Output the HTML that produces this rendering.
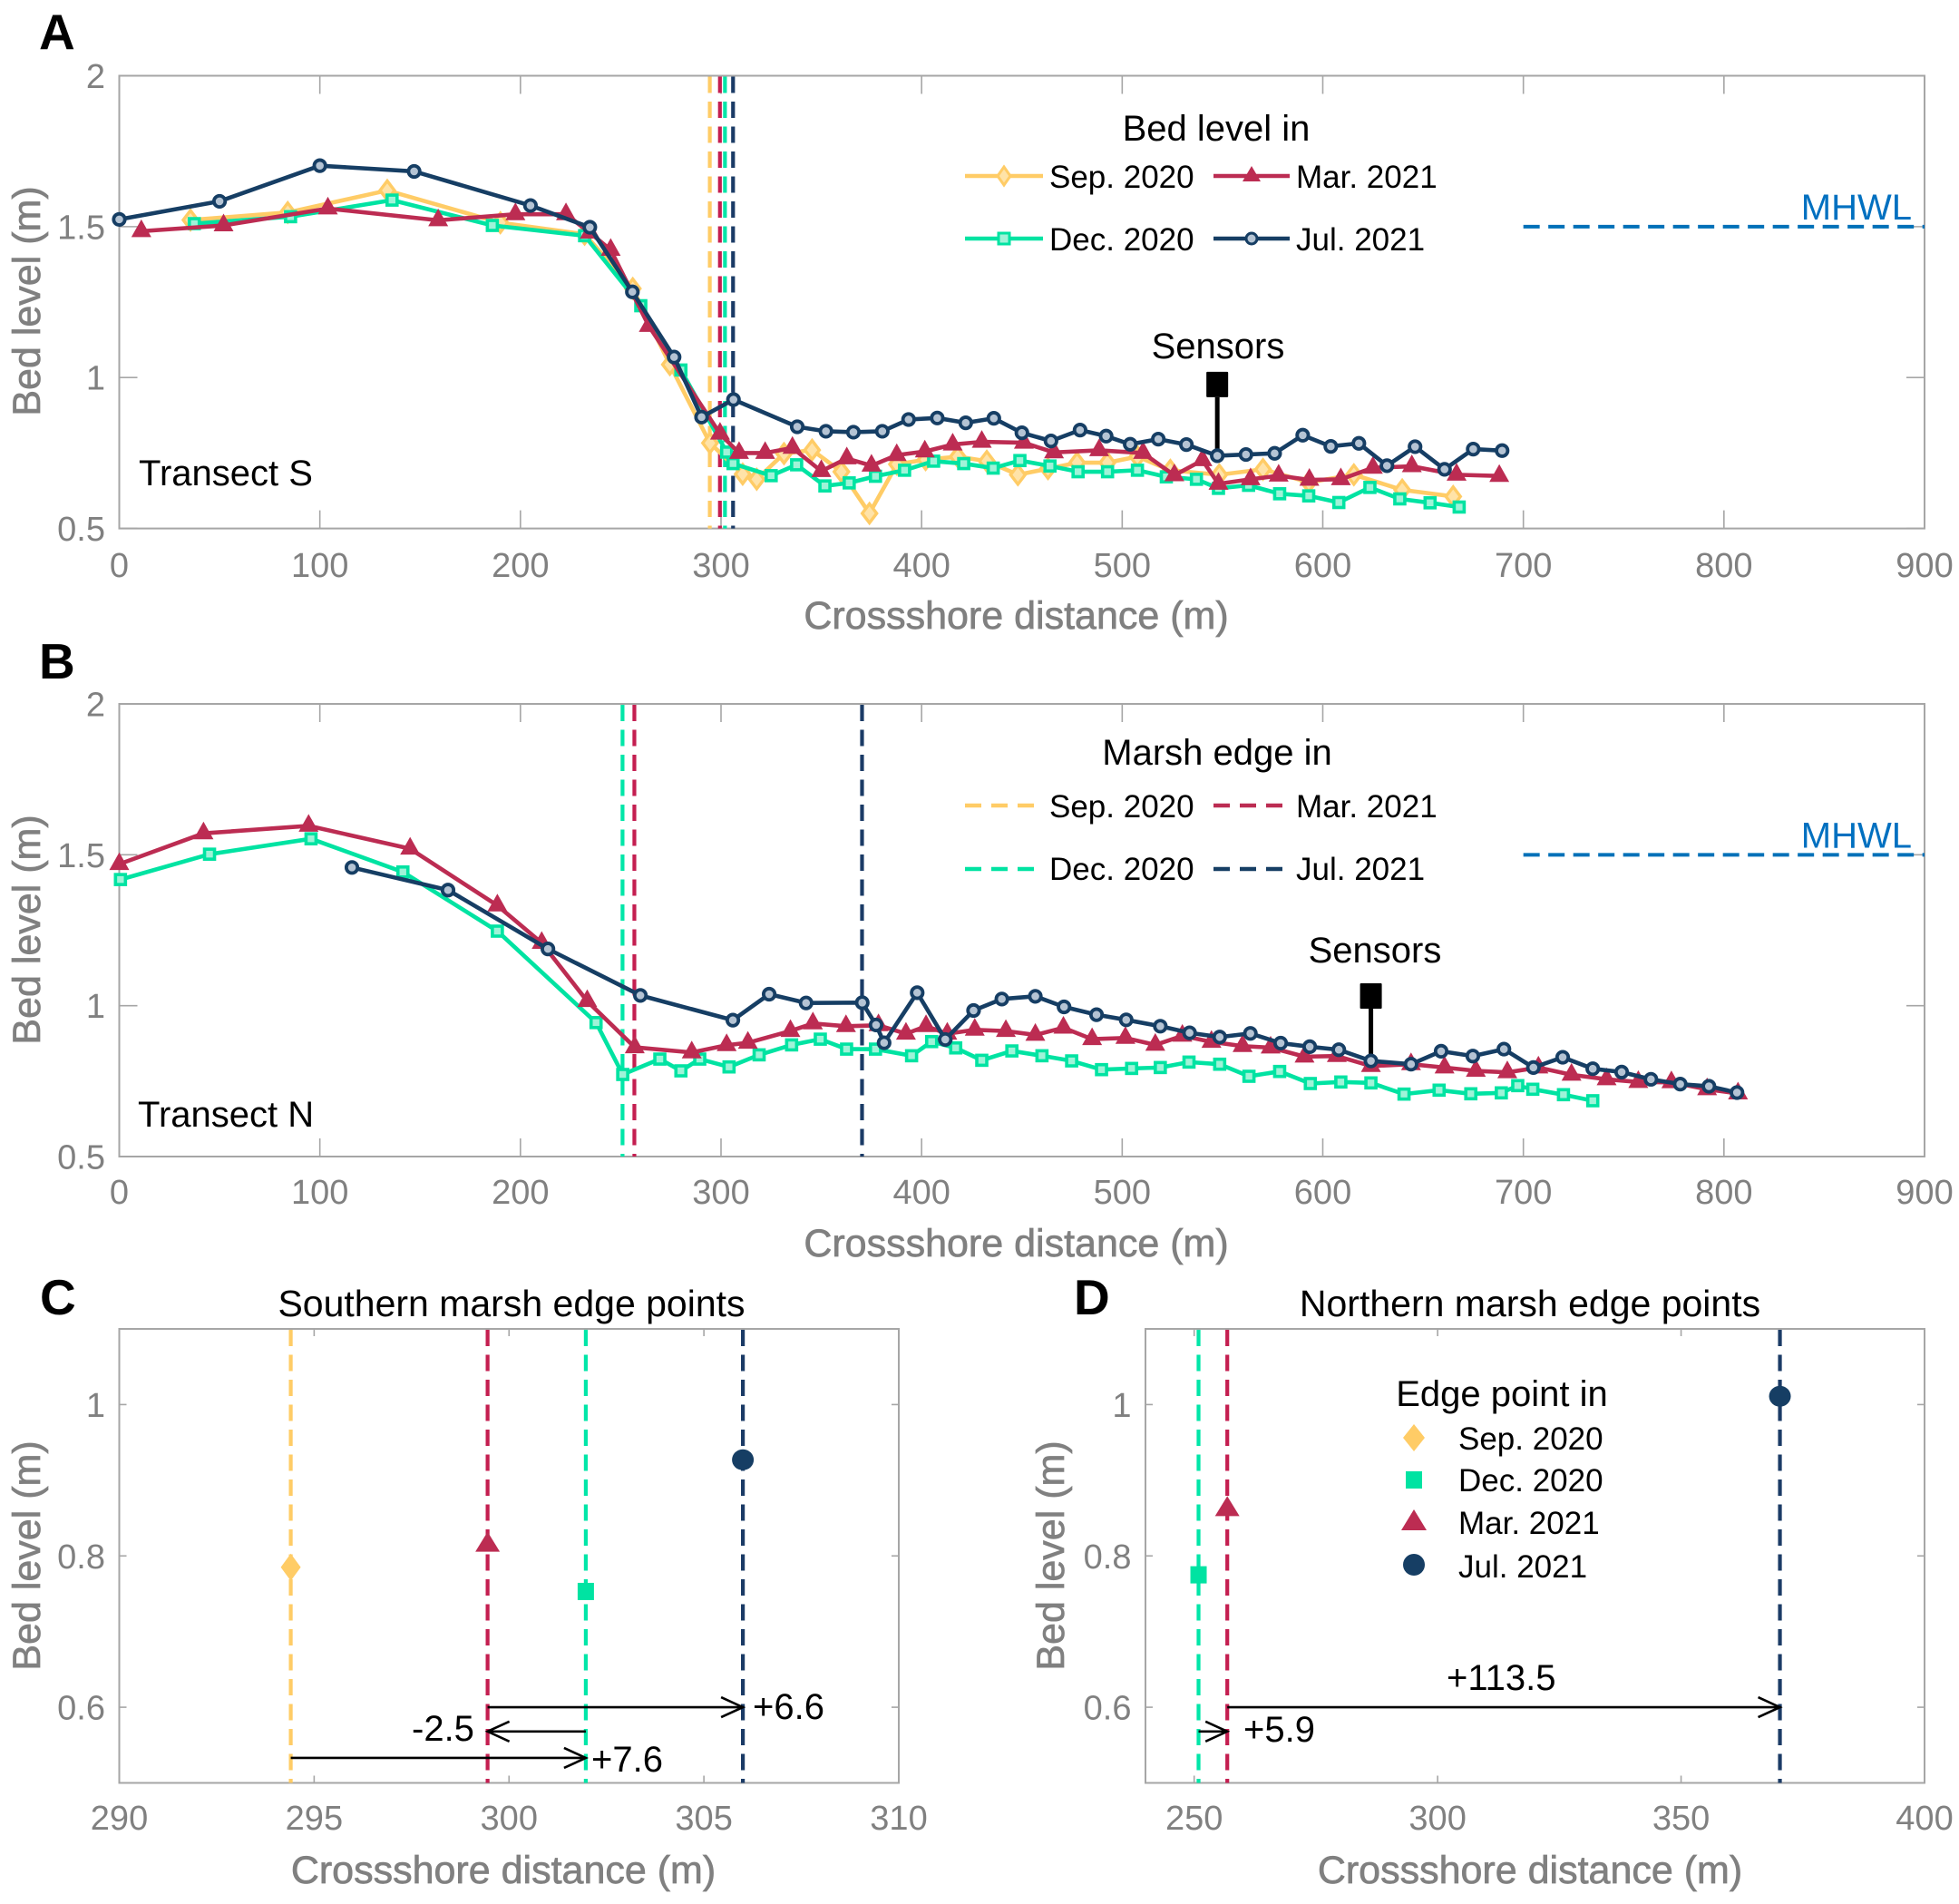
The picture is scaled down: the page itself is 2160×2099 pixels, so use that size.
<!DOCTYPE html>
<html lang="en">
<head>
<meta charset="utf-8">
<title>Bed level and marsh edge points</title>
<style>
html,body{margin:0;padding:0;background:#fff;width:2160px;height:2099px;overflow:hidden}
svg{display:block}
text{font-family:"Liberation Sans",sans-serif;fill:#000}
.lbl{font-size:40px}
.leg{font-size:35px}
.pan{font-size:55px;font-weight:bold}
.ax{font-size:43px;fill:#808080;stroke:#808080;stroke-width:.7px}
.tk{font-size:38px;fill:#808080}
</style>
</head>
<body>
<svg id="fig" xmlns="http://www.w3.org/2000/svg" width="2160" height="2099" viewBox="0 0 2160 2099">
  <rect width="2160" height="2099" fill="#fff"/>
  <g id="plots"></g>

  <text class="pan" x="43" y="54">A</text>
  <text class="pan" x="43" y="748">B</text>
  <text class="pan" x="44" y="1449">C</text>
  <text class="pan" x="1184" y="1449">D</text>

  <text class="lbl" x="153" y="535">Transect S</text>
  <text class="lbl" x="152" y="1242">Transect N</text>
  <text class="lbl" x="564" y="1451" text-anchor="middle" style="font-size:41px">Southern marsh edge points</text>
  <text class="lbl" x="1687" y="1451" text-anchor="middle" style="font-size:41px">Northern marsh edge points</text>

  <g>
    <text class="lbl" x="1341" y="155" text-anchor="middle">Bed level in</text>
    <g>
      <line x1="1064" x2="1150" y1="194" y2="194" stroke="#FFCC66" stroke-width="4.5"/>
      <polygon points="1107,184 1114,194 1107,204 1100,194" fill="#FFE3A8" stroke="#FFCC66" stroke-width="3"/>
      <text class="leg" x="1157" y="207">Sep. 2020</text>
    </g>
    <g>
      <line x1="1338" x2="1422" y1="194" y2="194" stroke="#BC2C52" stroke-width="4.5"/>
      <polygon points="1380,183 1390,200 1370,200" fill="#BC2C52"/>
      <text class="leg" x="1429" y="207">Mar. 2021</text>
    </g>
    <g>
      <line x1="1064" x2="1150" y1="263" y2="263" stroke="#00E3A2" stroke-width="4.5"/>
      <rect x="1101" y="257" width="12" height="12" fill="#9FF3D8" stroke="#00E3A2" stroke-width="3"/>
      <text class="leg" x="1157" y="276">Dec. 2020</text>
    </g>
    <g>
      <line x1="1338" x2="1422" y1="263" y2="263" stroke="#163E64" stroke-width="4.5"/>
      <circle cx="1380" cy="263" r="6" fill="#B5C4D4" stroke="#163E64" stroke-width="3"/>
      <text class="leg" x="1429" y="276">Jul. 2021</text>
    </g>
  </g>

  <g>
    <text class="lbl" x="1342" y="843" text-anchor="middle">Marsh edge in</text>
    <g>
      <line x1="1064" x2="1150" y1="888" y2="888" stroke="#FFCC66" stroke-width="4.5" stroke-dasharray="18 11"/>
      <text class="leg" x="1157" y="901">Sep. 2020</text>
    </g>
    <g>
      <line x1="1338" x2="1422" y1="888" y2="888" stroke="#BC2C52" stroke-width="4.5" stroke-dasharray="18 11"/>
      <text class="leg" x="1429" y="901">Mar. 2021</text>
    </g>
    <g>
      <line x1="1064" x2="1150" y1="958" y2="958" stroke="#00E3A2" stroke-width="4.5" stroke-dasharray="18 11"/>
      <text class="leg" x="1157" y="970">Dec. 2020</text>
    </g>
    <g>
      <line x1="1338" x2="1422" y1="958" y2="958" stroke="#163E64" stroke-width="4.5" stroke-dasharray="18 11"/>
      <text class="leg" x="1429" y="970">Jul. 2021</text>
    </g>
  </g>

  <g>
    <text class="lbl" x="1656" y="1550" text-anchor="middle">Edge point in</text>
    <g>
      <polygon points="1559,1570 1571,1585 1559,1600 1547,1585" fill="#FFCC66"/>
      <text class="leg" x="1608" y="1598">Sep. 2020</text>
    </g>
    <g>
      <rect x="1550" y="1622" width="18" height="19" fill="#00E3A2"/>
      <text class="leg" x="1608" y="1644">Dec. 2020</text>
    </g>
    <g>
      <polygon points="1559,1664 1573,1687 1545,1687" fill="#BC2C52"/>
      <text class="leg" x="1608" y="1691">Mar. 2021</text>
    </g>
    <g>
      <ellipse cx="1559" cy="1725" rx="12" ry="12" fill="#163E64"/>
      <text class="leg" x="1608" y="1739">Jul. 2021</text>
    </g>
  </g>

  <text class="lbl" x="830" y="1895">+6.6</text>
  <text class="lbl" x="454" y="1919">-2.5</text>
  <text class="lbl" x="652" y="1953">+7.6</text>
  <text class="lbl" x="1595" y="1863">+113.5</text>
  <text class="lbl" x="1371" y="1920">+5.9</text>
</svg>
<script>
// ---- Transect S (panel A) ----
const sepSX=[35.5,84,133.6,190,232,256,274.5,294.5,310.8,317.8,331.4,345.4,360,374,387.7,402,418,432.5,448,463,477.5,492.6,507.6,524,548.4,570.2,593,615.5,639.6,665];
const sepSY=[1.522,1.547,1.62,1.513,1.475,1.295,1.043,.783,.68,.663,.748,.76,.688,.55,.713,.728,.738,.723,.678,.698,.718,.718,.738,.693,.678,.696,.653,.678,.628,.606];
const decSX=[37.4,85.4,136,186,232,260,280,302.8,306,325,337.7,351.8,363.9,377,391.5,406,421,435.7,449,464,478,492.7,507.6,522,537,548,563,578.5,593,608,623.5,638.4,653.5,668];
const decSY=[1.51,1.533,1.588,1.504,1.47,1.238,1.025,.753,.715,.675,.711,.641,.651,.673,.693,.723,.715,.70,.725,.707,.688,.688,.693,.671,.663,.633,.643,.615,.608,.586,.636,.598,.585,.571];
const marSX=[11,52,104,159,197.5,222.7,234.6,245,264,299.5,309,322,335.6,350,362.7,375,387.6,401.6,415.5,430,451,466,488.5,510.4,526,540,548,564,578,593.3,609,625,644.4,666.7,688];
const marSY=[1.485,1.504,1.56,1.521,1.541,1.541,1.48,1.423,1.171,.814,.75,.75,.767,.69,.732,.708,.743,.755,.778,.787,.784,.752,.759,.75,.676,.726,.648,.663,.675,.661,.663,.701,.706,.678,.674];
const julSX=[0,50,100,147,205,234.6,255.8,276.6,290.3,306.2,338,352.3,366,380.4,393.5,407.8,422,436,450,464.5,479,492,504,518,532,547.4,561.7,576,590,604,618,632,646,660.7,675,689.4];
const julSY=[1.524,1.584,1.702,1.683,1.57,1.498,1.284,1.068,.869,.927,.837,.822,.819,.822,.861,.866,.85,.865,.817,.79,.826,.806,.779,.796,.778,.741,.745,.749,.809,.772,.782,.708,.771,.696,.763,.758];

// ---- Transect N (panel B) ----
const decNX=[.6,45,95.6,141.4,188.5,237.7,251,269.5,280,289.4,304,319,335.2,349.5,362.6,377,395,405,417,430,445,460,474.8,489.7,504.7,519,533.3,548.6,563.2,578.5,593.8,609,624,640.5,658,673.8,689,697.2,704.7,720,734.6];
const decNY=[1.418,1.502,1.553,1.443,1.247,.944,.772,.823,.784,.823,.797,.837,.87,.889,.856,.856,.834,.881,.86,.819,.85,.834,.817,.788,.792,.795,.813,.806,.766,.782,.742,.747,.744,.707,.72,.708,.711,.735,.723,.705,.685];
const marNX=[0,42,94.4,145,188.5,210.6,233.3,257,285.4,302.8,313.4,334.6,345.8,362.3,378.5,392.2,402.2,412.8,426.5,442,456.7,470.7,485,501.6,516.5,530,544.5,560,574,590.9,607,624,644,660.7,676.3,692,707.5,724,741.5,757.3,773.8,791.6,807];
const marNY=[1.469,1.571,1.596,1.52,1.332,1.208,1.015,.862,.845,.869,.877,.916,.941,.932,.935,.907,.932,.907,.92,.916,.903,.927,.889,.893,.87,.90,.88,.866,.861,.831,.833,.80,.806,.795,.784,.779,.795,.771,.756,.747,.746,.723,.709];
const julNX=[116,163.9,213.7,259.8,305.9,324,342.4,370.4,377.3,381.3,397.8,411.8,425.9,440,456.7,471,487.2,502,519,533.6,548.6,563.9,579,593.5,608,624,644,659,674.8,690.3,705,719.6,734.6,749,763.6,778.2,792.5,806.5];
const julNY=[1.458,1.383,1.188,1.034,.952,1.038,1.009,1.01,.936,.877,1.043,.888,.984,1.022,1.031,.996,.97,.953,.932,.91,.896,.908,.876,.864,.854,.817,.806,.849,.833,.856,.795,.829,.791,.78,.756,.74,.733,.712];

// ---- Marsh edge points (panels C and D; edge lines in A and B) ----
const edgeSSurveys=['sep','mar','dec','jul'];
const edgeSDist=[294.4,299.45,301.97,306];
const edgeSLevel=[.785,.817,.753,.927];
const edgeNSurveys=['dec','mar','jul'];
const edgeNDist=[250.9,256.8,370.3];
const edgeNLevel=[.775,.864,1.011];

// ---- Shift arrows: start, end, level ----
const arrowsCFrom=[299.45,301.97,294.4];
const arrowsCTo=[306,299.45,301.97];
const arrowsCLevel=[.6,.568,.533];
const arrowsDFrom=[256.8,250.9];
const arrowsDTo=[370.3,256.8];
const arrowsDLevel=[.6,.568];

// ---- Reference values ----
const mhwlLevel=1.5;
const mhwlStart=700;
const mhwlEnd=900;
const sensorDist=[547.4,624];
const sensorBase=[.741,.817];
const sensorTop=[.935,.99];

// ---- Ticks ----
const xTicksLong=[0,100,200,300,400,500,600,700,800,900];
const yTicksLong=[.5,1,1.5,2];
const yTickLongLabels=['0.5','1','1.5','2'];
const xTicksC=[290,295,300,305,310];
const xTicksD=[250,300,350,400];
const yTicksEdge=[.6,.8,1];
const yTickEdgeLabels=['0.6','0.8','1'];

const NS='http://www.w3.org/2000/svg';
const COLORS={sep:'#FFCC66',dec:'#00E3A2',mar:'#BC2C52',jul:'#163E64'};
const FILLS={sep:'#FFE3A8',dec:'#9FF3D8',mar:'#BC2C52',jul:'#B5C4D4'};
const VCOLORS={sep:'#FFCC66',dec:'#00E6A8',mar:'#C41E50',jul:'#1B3B66'};
const root=document.getElementById('plots');

function mk(tag,attrs,parent,txt){
  const e=document.createElementNS(NS,tag);
  for(const k in attrs)e.setAttribute(k,attrs[k]);
  if(txt!==undefined)e.textContent=txt;
  (parent||root).appendChild(e);
  return e;
}
function scale(d0,d1,p0,p1){return v=>p0+(v-d0)*(p1-p0)/(d1-d0);}

function drawAxes(o){
  const g=mk('g',{},root);
  
  
  const frame=mk('rect',{x:o.l,y:o.t,width:o.r-o.l,height:o.b-o.t,fill:'none',stroke:'#A6A6A6','stroke-width':2},g);
  
  
  o.xTicks.forEach(v=>{
    const px=o.x(v);
    const t1=mk('line',{x1:px,x2:px,y1:o.b,y2:o.b-o.tick,stroke:'#A6A6A6','stroke-width':1.6},g);
    
    
    const t2=mk('line',{x1:px,x2:px,y1:o.t,y2:o.t+o.tick,stroke:'#A6A6A6','stroke-width':1.6},g);
    
    
    const lb=mk('text',{x:px,y:o.xLabelY,'text-anchor':'middle','class':'tk'},g,String(v));
    
    
  });
  o.yTicks.forEach((v,i)=>{
    const py=o.y(v);
    const t1=mk('line',{x1:o.l,x2:o.l+o.tick,y1:py,y2:py,stroke:'#A6A6A6','stroke-width':1.6},g);
    
    
    const t2=mk('line',{x1:o.r,x2:o.r-o.tick,y1:py,y2:py,stroke:'#A6A6A6','stroke-width':1.6},g);
    
    
    const lb=mk('text',{x:o.l-15.5,y:py+13.5,'text-anchor':'end','class':'tk'},g,o.yLabels[i]);
    
    
  });
  const xt=mk('text',{x:o.xTitleX,y:o.xTitleY,'text-anchor':'middle','class':'ax'},g,'Crossshore distance (m)');
  
  
  const yt=mk('text',{x:0,y:0,'text-anchor':'middle','class':'ax',transform:'translate('+o.yTitleX+' '+o.yTitleY+') rotate(-90)'},g,'Bed level (m)');
  
  
}

function edgeLine(o,survey,dist){
  const px=o.x(dist);
  const e=mk('line',{x1:px,x2:px,y1:o.t+1,y2:o.b,stroke:VCOLORS[survey],'stroke-width':4.2,'stroke-dasharray':'18 9.5'},root);
  
  
}

function smallMarker(g,kind,x,y){
  let m;
  if(kind==='sep'){
    m=mk('polygon',{points:[x,y-10.5,x+8,y,x,y+10.5,x-8,y].join(' '),fill:FILLS.sep,stroke:COLORS.sep,'stroke-width':3.4},g);
  }else if(kind==='dec'){
    m=mk('rect',{x:x-5.5,y:y-5.5,width:11,height:11,fill:FILLS.dec,stroke:COLORS.dec,'stroke-width':3.6},g);
  }else if(kind==='mar'){
    m=mk('polygon',{points:[x,y-13,x+11,y+6.5,x-11,y+6.5].join(' '),fill:COLORS.mar},g);
  }else{
    m=mk('circle',{cx:x,cy:y,r:6.2,fill:FILLS.jul,stroke:COLORS.jul,'stroke-width':3.8},g);
  }
  
  
}

function series(o,kind,xs,ys){
  const g=mk('g',{},root);
  
  
  const pts=xs.map((v,i)=>o.x(v)+','+o.y(ys[i])).join(' ');
  const l=mk('polyline',{points:pts,fill:'none',stroke:COLORS[kind],'stroke-width':4.6,'stroke-linejoin':'round'},g);
  
  
  xs.forEach((v,i)=>smallMarker(g,kind,o.x(v),o.y(ys[i])));
}

function mhwl(o){
  const py=o.y(mhwlLevel);
  const l=mk('line',{x1:o.x(mhwlStart),x2:o.x(mhwlEnd),y1:py,y2:py,stroke:'#0070B8','stroke-width':4,'stroke-dasharray':'18 9.5'},root);
  
  
  const t=mk('text',{x:2108,y:py-8,'text-anchor':'end','class':'lbl',style:'fill:#0070C0'},root,'MHWL');
  
  
}

function sensor(o,i,labelX,labelY){
  const px=o.x(sensorDist[i]);
  const top=o.y(sensorTop[i]);
  const st=mk('line',{x1:px,x2:px,y1:top,y2:o.y(sensorBase[i]),stroke:'#000','stroke-width':5},root);
  
  
  const sq=mk('rect',{x:px-12,y:top-28,width:24,height:28,rx:1,fill:'#000'},root);
  
  
  const t=mk('text',{x:labelX,y:labelY,'text-anchor':'middle','class':'lbl'},root,'Sensors');
  
  
}

function bigMarker(o,kind,dist,level){
  const x=o.x(dist),y=o.y(level);
  let m;
  if(kind==='sep'){
    m=mk('polygon',{points:[x,y-15,x+11,y,x,y+15,x-11,y].join(' '),fill:COLORS.sep},root);
  }else if(kind==='dec'){
    m=mk('rect',{x:x-9,y:y-9.5,width:18,height:19,fill:COLORS.dec},root);
  }else if(kind==='mar'){
    m=mk('polygon',{points:[x,y-12.5,x+13.5,y+9.5,x-13.5,y+9.5].join(' '),fill:COLORS.mar},root);
  }else{
    m=mk('ellipse',{cx:x,cy:y,rx:12,ry:11.5,fill:COLORS.jul},root);
  }
  
  
}

function arrow(o,from,to,level){
  const x0=o.x(from),x1=o.x(to),y=o.y(level);
  const dir=x1>x0?1:-1;
  const g=mk('g',{fill:'none',stroke:'#000','stroke-width':2.6},root);
  
  
  mk('line',{x1:x0,x2:x1,y1:y,y2:y},g);
  mk('polyline',{points:[x1-dir*24,y-11,x1,y,x1-dir*24,y+11].join(' ')},g);
}

const pA={id:'panel-a',l:131.5,r:2122,t:83.5,b:582.6,tick:20,xTicks:xTicksLong,yTicks:yTicksLong,yLabels:yTickLongLabels,xLabelY:636,xTitleX:1120.5,xTitleY:693,yTitleX:44,yTitleY:332};
pA.x=scale(0,900,pA.l,pA.r);
pA.y=scale(.5,2,pA.b,pA.t);
const pB={id:'panel-b',l:131.5,r:2122,t:776,b:1275,tick:20,xTicks:xTicksLong,yTicks:yTicksLong,yLabels:yTickLongLabels,xLabelY:1327,xTitleX:1120.5,xTitleY:1385,yTitleX:44,yTitleY:1025};
pB.x=scale(0,900,pB.l,pB.r);
pB.y=scale(.5,2,pB.b,pB.t);
const pC={id:'panel-c',l:131.5,r:991,t:1465,b:1965.5,tick:8,xTicks:xTicksC,yTicks:yTicksEdge,yLabels:yTickEdgeLabels,xLabelY:2017,xTitleX:555,xTitleY:2076,yTitleX:44,yTitleY:1715};
pC.x=scale(290,310,pC.l,pC.r);
pC.y=scale(.5,1.1,pC.b,pC.t);
const pD={id:'panel-d',l:1263,r:2122,t:1465,b:1965.5,tick:8,xTicks:xTicksD,yTicks:yTicksEdge,yLabels:yTickEdgeLabels,xLabelY:2017,xTitleX:1687,xTitleY:2076,yTitleX:1173,yTitleY:1715};
pD.x=scale(240,400,pD.l,pD.r);
pD.y=scale(.5,1.1,pD.b,pD.t);

// Panel A
drawAxes(pA);
edgeSSurveys.forEach((k,i)=>edgeLine(pA,k,edgeSDist[i]));
series(pA,'sep',sepSX,sepSY);
series(pA,'dec',decSX,decSY);
series(pA,'mar',marSX,marSY);
sensor(pA,0,1343,395);
series(pA,'jul',julSX,julSY);
mhwl(pA);

// Panel B
drawAxes(pB);
edgeNSurveys.forEach((k,i)=>edgeLine(pB,k,edgeNDist[i]));
series(pB,'dec',decNX,decNY);
series(pB,'mar',marNX,marNY);
sensor(pB,1,1516,1061);
series(pB,'jul',julNX,julNY);
mhwl(pB);

// Panel C
drawAxes(pC);
edgeSSurveys.forEach((k,i)=>edgeLine(pC,k,edgeSDist[i]));
edgeSSurveys.forEach((k,i)=>bigMarker(pC,k,edgeSDist[i],edgeSLevel[i]));
arrowsCFrom.forEach((v,i)=>arrow(pC,v,arrowsCTo[i],arrowsCLevel[i]));

// Panel D
drawAxes(pD);
edgeNSurveys.forEach((k,i)=>edgeLine(pD,k,edgeNDist[i]));
edgeNSurveys.forEach((k,i)=>bigMarker(pD,k,edgeNDist[i],edgeNLevel[i]));
arrowsDFrom.forEach((v,i)=>arrow(pD,v,arrowsDTo[i],arrowsDLevel[i]));
</script>
</body>
</html>
